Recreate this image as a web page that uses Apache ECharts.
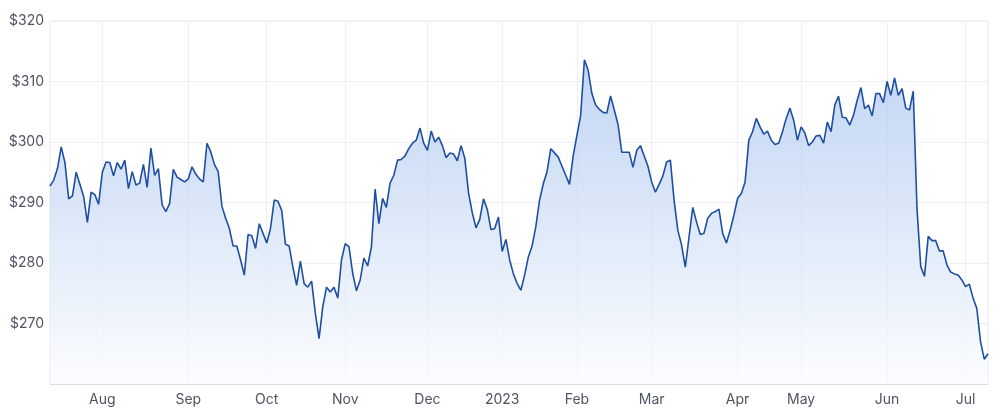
<!DOCTYPE html>
<html>
<head>
<meta charset="utf-8">
<script src="https://cdn.jsdelivr.net/npm/echarts@6/dist/echarts.min.js"></script>
<style>
html,body{margin:0;padding:0;background:#fff;}
#chart{width:1000px;height:418px;}
</style>
</head>
<body>
<div id="chart"></div>
<script>
// ASX trading days, 12 Jul 2022 – 11 Jul 2023
const dates = [
'2022-07-12','2022-07-13','2022-07-14','2022-07-15','2022-07-18','2022-07-19','2022-07-20','2022-07-21','2022-07-22','2022-07-25','2022-07-26','2022-07-27','2022-07-28','2022-07-29',
'2022-08-01','2022-08-02','2022-08-03','2022-08-04','2022-08-05','2022-08-08','2022-08-09','2022-08-10','2022-08-11','2022-08-12','2022-08-15','2022-08-16','2022-08-17','2022-08-18','2022-08-19','2022-08-22','2022-08-23','2022-08-24','2022-08-25','2022-08-26','2022-08-29','2022-08-30','2022-08-31',
'2022-09-01','2022-09-02','2022-09-05','2022-09-06','2022-09-07','2022-09-08','2022-09-09','2022-09-12','2022-09-13','2022-09-14','2022-09-15','2022-09-16','2022-09-19','2022-09-20','2022-09-21','2022-09-23','2022-09-26','2022-09-27','2022-09-28','2022-09-29','2022-09-30',
'2022-10-03','2022-10-04','2022-10-05','2022-10-06','2022-10-07','2022-10-10','2022-10-11','2022-10-12','2022-10-13','2022-10-14','2022-10-17','2022-10-18','2022-10-19','2022-10-20','2022-10-21','2022-10-24','2022-10-25','2022-10-26','2022-10-27','2022-10-28','2022-10-31',
'2022-11-01','2022-11-02','2022-11-03','2022-11-04','2022-11-07','2022-11-08','2022-11-09','2022-11-10','2022-11-11','2022-11-14','2022-11-15','2022-11-16','2022-11-17','2022-11-18','2022-11-21','2022-11-22','2022-11-23','2022-11-24','2022-11-25','2022-11-28','2022-11-29','2022-11-30',
'2022-12-01','2022-12-02','2022-12-05','2022-12-06','2022-12-07','2022-12-08','2022-12-09','2022-12-12','2022-12-13','2022-12-14','2022-12-15','2022-12-16','2022-12-19','2022-12-20','2022-12-21','2022-12-22','2022-12-23','2022-12-28','2022-12-29','2022-12-30',
'2023-01-03','2023-01-04','2023-01-05','2023-01-06','2023-01-09','2023-01-10','2023-01-11','2023-01-12','2023-01-13','2023-01-16','2023-01-17','2023-01-18','2023-01-19','2023-01-20','2023-01-23','2023-01-24','2023-01-25','2023-01-27','2023-01-30','2023-01-31',
'2023-02-01','2023-02-02','2023-02-03','2023-02-06','2023-02-07','2023-02-08','2023-02-09','2023-02-10','2023-02-13','2023-02-14','2023-02-15','2023-02-16','2023-02-17','2023-02-20','2023-02-21','2023-02-22','2023-02-23','2023-02-24','2023-02-27','2023-02-28',
'2023-03-01','2023-03-02','2023-03-03','2023-03-06','2023-03-07','2023-03-08','2023-03-09','2023-03-10','2023-03-13','2023-03-14','2023-03-15','2023-03-16','2023-03-17','2023-03-20','2023-03-21','2023-03-22','2023-03-23','2023-03-24','2023-03-27','2023-03-28','2023-03-29','2023-03-30','2023-03-31',
'2023-04-03','2023-04-04','2023-04-05','2023-04-06','2023-04-11','2023-04-12','2023-04-13','2023-04-14','2023-04-17','2023-04-18','2023-04-19','2023-04-20','2023-04-21','2023-04-24','2023-04-26','2023-04-27','2023-04-28',
'2023-05-01','2023-05-02','2023-05-03','2023-05-04','2023-05-05','2023-05-08','2023-05-09','2023-05-10','2023-05-11','2023-05-12','2023-05-15','2023-05-16','2023-05-17','2023-05-18','2023-05-19','2023-05-22','2023-05-23','2023-05-24','2023-05-25','2023-05-26','2023-05-29','2023-05-30','2023-05-31',
'2023-06-01','2023-06-02','2023-06-05','2023-06-06','2023-06-07','2023-06-08','2023-06-09','2023-06-13','2023-06-14','2023-06-15','2023-06-16','2023-06-19','2023-06-20','2023-06-21','2023-06-22','2023-06-23','2023-06-26','2023-06-27','2023-06-28','2023-06-29','2023-06-30',
'2023-07-03','2023-07-04','2023-07-05','2023-07-06','2023-07-07','2023-07-10','2023-07-11'
];

// closing prices
const prices = [
292.7,293.7,295.6,299.2,296.6,290.6,291.1,295.0,293.0,291.0,
286.7,291.7,291.3,289.7,295.0,296.7,296.6,294.4,296.6,295.5,
297.0,292.3,295.1,292.9,293.2,296.3,292.5,299.0,294.5,295.6,
289.6,288.5,289.8,295.5,294.2,293.8,293.4,293.9,295.9,294.7,
293.9,293.4,299.8,298.4,296.3,295.1,289.4,287.4,285.7,282.8,
282.8,280.5,278.0,284.7,284.5,282.4,286.5,284.9,283.3,285.7,
290.4,290.2,288.7,283.1,282.8,279.3,276.3,280.3,276.6,276.0,
277.0,271.7,267.5,272.8,276.0,275.2,276.0,274.2,280.5,283.2,
282.7,278.3,275.4,277.2,280.8,279.5,282.6,292.2,286.5,290.7,
289.2,293.2,294.5,297.0,297.1,297.7,298.9,299.8,300.3,302.3,
299.8,298.6,301.8,300.0,300.8,299.4,297.4,298.2,298.0,296.9,
299.4,297.3,291.6,288.3,285.8,287.2,290.6,288.9,285.5,285.7,
287.6,281.9,283.9,280.5,278.2,276.6,275.5,278.0,281.0,282.8,
286.0,290.4,293.1,295.1,298.9,298.2,297.5,296.0,294.5,293.0,
297.7,301.1,304.4,313.6,311.9,308.0,306.1,305.4,304.9,304.8,
307.6,305.3,302.9,298.3,298.3,298.3,295.8,298.6,299.4,297.7,
296.0,293.4,291.7,293.0,294.4,296.7,297.0,290.4,285.4,283.0,
279.3,284.3,289.2,286.8,284.7,284.9,287.4,288.2,288.5,288.9,
284.9,283.3,285.4,287.9,290.7,291.5,293.4,300.3,301.7,303.9,
302.5,301.3,301.8,300.3,299.6,299.8,301.7,303.9,305.6,303.6,
300.3,302.5,301.5,299.4,300.0,301.0,301.1,299.8,303.3,301.7,
306.1,307.6,304.1,304.0,302.8,304.4,306.9,309.0,305.5,306.1,
304.3,308.0,308.0,306.5,310.0,307.7,310.6,307.7,308.8,305.6,
305.3,308.4,289.0,279.4,277.8,284.4,283.7,283.7,282.0,282.0,
279.7,278.5,278.2,278.0,277.2,276.1,276.5,274.2,272.5,267.0,
264.1,265.0
];

const monthNames = ['Jan','Feb','Mar','Apr','May','Jun','Jul','Aug','Sep','Oct','Nov','Dec'];
const yTicks = [260, 270, 280, 290, 300, 310, 320];

function isMonthStart(idx) {
  if (idx === 0) return false;
  return dates[idx].slice(0, 7) !== dates[idx - 1].slice(0, 7);
}

const chart = echarts.init(document.getElementById('chart'), null, {renderer: 'canvas'});
chart.setOption({
  animation: false,
  backgroundColor: '#ffffff',
  grid: {left: 50, right: 12, top: 21, bottom: 34, show: true, borderColor: '#e8e8ee', borderWidth: 1},
  xAxis: {
    type: 'category',
    data: dates,
    boundaryGap: false,
    axisLine: {show: true, lineStyle: {color: '#dcdce2'}},
    axisTick: {show: false},
    axisLabel: {
      interval: function (idx) { return isMonthStart(idx); },
      formatter: function (v) {
        const m = parseInt(v.slice(5, 7), 10) - 1;
        return m === 0 ? v.slice(0, 4) : monthNames[m];
      },
      color: '#4f5461',
      fontSize: 14,
      fontFamily: 'Inter, Roboto, sans-serif',
      margin: 9
    },
    splitLine: {
      show: true,
      interval: function (idx) { return isMonthStart(idx); },
      lineStyle: {color: '#eeeef3', width: 1}
    }
  },
  yAxis: {
    type: 'value',
    min: yTicks[0],
    max: yTicks[yTicks.length - 1],
    interval: 10,
    axisLine: {show: false},
    axisTick: {show: false},
    axisLabel: {
      showMinLabel: false,
      formatter: function (v) { return v === yTicks[0] ? '' : '$' + v; },
      color: '#4f5461',
      fontSize: 14,
      fontFamily: 'Inter, Roboto, sans-serif',
      margin: 6
    },
    splitLine: {show: true, lineStyle: {color: '#eeeef3', width: 1}}
  },
  series: [{
    type: 'line',
    data: prices,
    showSymbol: false,
    symbol: 'none',
    smooth: false,
    lineStyle: {color: '#1f4fa0', width: 1.6},
    areaStyle: {
      color: new echarts.graphic.LinearGradient(0, 0, 0, 1, [
        {offset: 0, color: '#a8c4ef'},
        {offset: 0.45, color: '#cbdcf5'},
        {offset: 1, color: '#fafcff'}
      ])
    }
  }]
});
</script>
</body>
</html>
